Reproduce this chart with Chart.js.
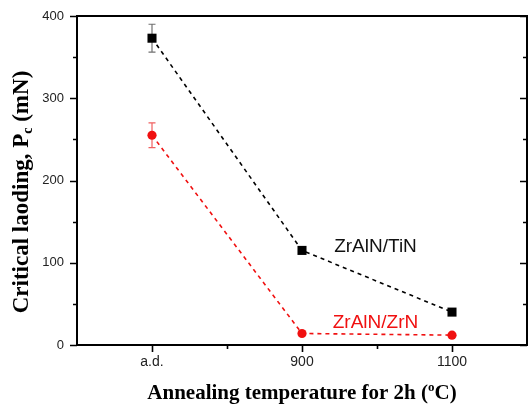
<!DOCTYPE html>
<html><head><meta charset="utf-8">
<script src="https://cdn.jsdelivr.net/npm/chart.js@4/dist/chart.umd.min.js"></script>
<style>html,body{margin:0;padding:0;background:#fff}</style>
</head><body>
<canvas id="c" width="528" height="404"></canvas>
<script>
// Critical loading of the two multilayer systems vs. annealing state
const categories = ['a.d.', '900', '1100'];
const tinValues = [373, 115, 40];
const tinErrors = [17, 0, 0];
const zrnValues = [255, 14, 12];
const zrnErrors = [15, 0, 0];
const yTickValues = [0, 100, 200, 300, 400];
const yMinorValues = [50, 150, 250, 350];

const BLACK = '#000000';
const RED = '#f01010';

const toPoints = vals => vals.map((v, i) => ({ x: i + 0.5, y: v }));

// error bars, frame with ticks, axis titles and series labels
const decor = {
  id: 'decor',
  beforeDatasetsDraw(chart) {
    const { ctx, scales: { x, y } } = chart;
    const sets = [[tinValues, tinErrors, '#707070'], [zrnValues, zrnErrors, '#f06060']];
    ctx.save();
    ctx.lineWidth = 1.2;
    sets.forEach(([vals, errs, col]) => {
      ctx.strokeStyle = col;
      vals.forEach((v, i) => {
        if (!errs[i]) return;
        const px = x.getPixelForValue(i + 0.5);
        const top = y.getPixelForValue(v + errs[i]);
        const bot = y.getPixelForValue(v - errs[i]);
        ctx.beginPath();
        ctx.moveTo(px, top); ctx.lineTo(px, bot);
        ctx.moveTo(px - 3.5, top); ctx.lineTo(px + 3.5, top);
        ctx.moveTo(px - 3.5, bot); ctx.lineTo(px + 3.5, bot);
        ctx.stroke();
      });
    });
    ctx.restore();
  },
  afterDraw(chart) {
    const { ctx, chartArea: a, scales: { x, y } } = chart;
    ctx.save();
    ctx.strokeStyle = '#000';
    ctx.lineWidth = 2;
    ctx.strokeRect(a.left, a.top, a.right - a.left, a.bottom - a.top);
    ctx.lineWidth = 1.6;
    ctx.beginPath();
    yTickValues.forEach(v => {
      const py = Math.round(y.getPixelForValue(v)) + 0.5;
      ctx.moveTo(a.left - 7, py); ctx.lineTo(a.left, py);
      ctx.moveTo(a.right, py); ctx.lineTo(a.right - 7, py);
    });
    yMinorValues.forEach(v => {
      const py = Math.round(y.getPixelForValue(v)) + 0.5;
      ctx.moveTo(a.left - 4, py); ctx.lineTo(a.left, py);
      ctx.moveTo(a.right, py); ctx.lineTo(a.right - 4, py);
    });
    categories.forEach((c, i) => {
      const px = Math.round(x.getPixelForValue(i + 0.5)) + 0.5;
      ctx.moveTo(px, a.bottom); ctx.lineTo(px, a.bottom + 7);
    });
    [1, 2].forEach(v => {
      const px = Math.round(x.getPixelForValue(v)) + 0.5;
      ctx.moveTo(px, a.bottom); ctx.lineTo(px, a.bottom + 4);
    });
    ctx.stroke();

    // series labels
    ctx.font = '19px "Liberation Sans", Arial, sans-serif';
    ctx.textAlign = 'center';
    ctx.textBaseline = 'middle';
    ctx.fillStyle = '#111';
    ctx.fillText('ZrAlN/TiN', x.getPixelForValue(1.99), y.getPixelForValue(119));
    ctx.fillStyle = RED;
    ctx.fillText('ZrAlN/ZrN', x.getPixelForValue(1.99), y.getPixelForValue(27));

    // x-axis title with superscript degree
    ctx.fillStyle = '#000';
    const xBig = 'bold 21px "Liberation Serif", "Times New Roman", serif';
    const xSmall = 'bold 13px "Liberation Serif", "Times New Roman", serif';
    const xParts = [['Annealing temperature for 2h (', xBig, 0], ['o', xSmall, -8], ['C)', xBig, 0]];
    ctx.textAlign = 'left';
    ctx.textBaseline = 'alphabetic';
    let w = 0;
    xParts.forEach(([t, f]) => { ctx.font = f; w += ctx.measureText(t).width; });
    let cx = 302 - w / 2;
    xParts.forEach(([t, f, dy]) => { ctx.font = f; ctx.fillText(t, cx, 399 + dy); cx += ctx.measureText(t).width; });

    // y-axis title with subscript c
    const yBig = 'bold 23px "Liberation Serif", "Times New Roman", serif';
    const ySmall = 'bold 14px "Liberation Serif", "Times New Roman", serif';
    const yParts = [['Critical laoding, P', yBig, 0], ['c', ySmall, 4], [' (mN)', yBig, 0]];
    ctx.translate(28, 192);
    ctx.rotate(-Math.PI / 2);
    w = 0;
    yParts.forEach(([t, f]) => { ctx.font = f; w += ctx.measureText(t).width; });
    cx = -w / 2;
    yParts.forEach(([t, f, dy]) => { ctx.font = f; ctx.fillText(t, cx, dy); cx += ctx.measureText(t).width; });
    ctx.restore();
  }
};

new Chart(document.getElementById('c'), {
  type: 'line',
  data: {
    datasets: [
      {
        label: 'ZrAlN/TiN',
        data: toPoints(tinValues),
        borderColor: BLACK,
        backgroundColor: BLACK,
        borderWidth: 1.6,
        borderDash: [4, 4],
        pointStyle: 'rect',
        pointRadius: 6.4,
        pointHoverRadius: 6.4,
        pointBorderWidth: 0
      },
      {
        label: 'ZrAlN/ZrN',
        data: toPoints(zrnValues),
        borderColor: RED,
        backgroundColor: RED,
        borderWidth: 1.6,
        borderDash: [4, 4],
        pointStyle: 'circle',
        pointRadius: 4.6,
        pointHoverRadius: 4.6,
        pointBorderWidth: 0
      }
    ]
  },
  options: {
    responsive: false,
    animation: false,
    devicePixelRatio: 1,
    layout: { autoPadding: false, padding: { top: 16, right: 1, left: 0, bottom: 0 } },
    plugins: { legend: { display: false }, tooltip: { enabled: false } },
    scales: {
      x: {
        type: 'linear',
        min: 0,
        max: 3,
        grid: { display: false, drawTicks: false },
        border: { display: false },
        afterBuildTicks: s => { s.ticks = categories.map((c, i) => ({ value: i + 0.5 })); },
        afterFit: s => { s.height = 59; s.paddingLeft = 0; s.paddingRight = 0; },
        ticks: {
          callback: v => categories[Math.round(v - 0.5)],
          font: { family: '"Liberation Sans", Arial, sans-serif', size: 14 },
          color: '#222',
          padding: 9,
          maxRotation: 0
        }
      },
      y: {
        min: 0,
        max: 400,
        grid: { display: false, drawTicks: false },
        border: { display: false },
        afterBuildTicks: s => { s.ticks = yTickValues.map(v => ({ value: v })); },
        afterFit: s => { s.width = 77; s.paddingTop = 0; s.paddingBottom = 0; },
        ticks: {
          font: { family: '"Liberation Sans", Arial, sans-serif', size: 13 },
          color: '#222',
          padding: 13
        }
      }
    }
  },
  plugins: [decor]
});
</script>
</body></html>
